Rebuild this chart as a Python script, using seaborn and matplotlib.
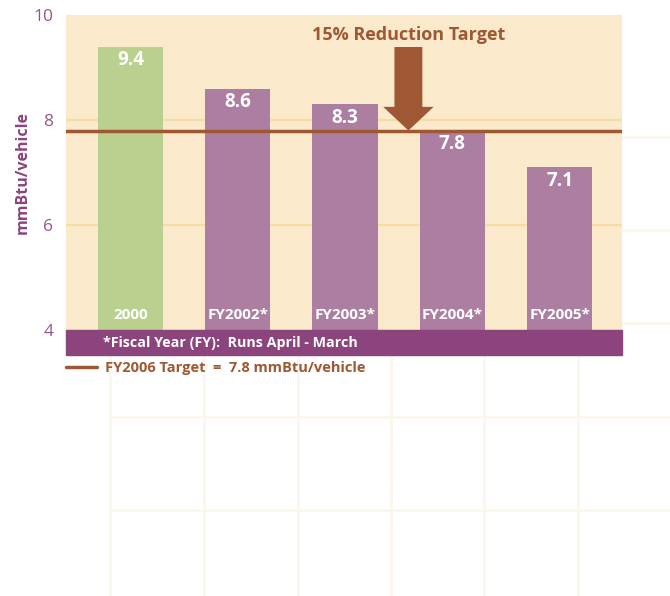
import matplotlib
matplotlib.use('Agg')
import matplotlib.pyplot as plt
import seaborn as sns
from matplotlib.patches import Rectangle
from matplotlib.lines import Line2D

# data
years = ['2000', 'FY2002*', 'FY2003*', 'FY2004*', 'FY2005*']
energy = [9.4, 8.6, 8.3, 7.8, 7.1]
bar_colors = ['#B9D08F', '#AC7FA2', '#AC7FA2', '#AC7FA2', '#AC7FA2']
target = 7.8
yticks = [4, 6, 8, 10]

sns.set_theme(style='white')
plt.rcParams['font.family'] = ['Open Sans', 'DejaVu Sans']

PURPLE = '#8B447C'
TICK_PURPLE = '#93588B'
BROWN = '#9E5833'
BEIGE = '#FAEACB'

fig = plt.figure(figsize=(6.7, 5.96), dpi=100)

# faint graph-paper grid behind everything
bg = fig.add_axes([0, 0, 1, 1], zorder=0)
bg.set_xlim(0, 670)
bg.set_ylim(596, 0)
bg.vlines([110, 204, 298, 391, 484, 578], 137, 596, color='#FCF7EC', lw=2)
bg.hlines([137, 230, 323, 417, 510], 110, 670, color='#FCF7EC', lw=2)
bg.axis('off')

ax = fig.add_axes([66 / 670, 1 - 330 / 596, 556 / 670, 315 / 596], zorder=2)
ax.set_facecolor(BEIGE)
sns.barplot(x=years, y=energy, hue=years, palette=bar_colors, legend=False,
            width=0.61, saturation=1, linewidth=0, edgecolor='none', ax=ax, zorder=3)
ax.set_xlim(-0.6, 4.58)
ax.set_ylim(4, 10)
ax.set_yticks(yticks)
ax.set_yticklabels([str(t) for t in yticks])
ax.yaxis.grid(True, color='#F5DDA2', lw=1.5)
ax.set_axisbelow(True)
gl = ax.yaxis.get_gridlines()
gl[0].set_visible(False)
gl[-1].set_visible(False)
ax.tick_params(axis='y', length=0, labelsize=12.5, labelcolor=TICK_PURPLE, pad=9)
ax.tick_params(axis='x', length=0, labelbottom=False)
ax.set_xlabel('')
ax.set_ylabel('mmBtu/vehicle', color=PURPLE, fontweight='bold', fontsize=11.5)
ax.yaxis.set_label_coords(-35 / 556, 0.5)
for s in ax.spines.values():
    s.set_visible(False)

# target line + arrow
ax.axhline(target, color=BROWN, lw=2.5, zorder=4)
ax.arrow(2.59, 9.39, 0, target - 9.39, width=0.26, head_width=0.47, head_length=0.45,
         length_includes_head=True, color=BROWN, lw=0, zorder=5)
ax.text(2.59, 9.62, '15% Reduction Target', ha='center', va='center', color=BROWN,
        fontweight='bold', fontsize=13)

for i, (name, v) in enumerate(zip(years, energy)):
    ax.text(i, v - 0.26, f'{v:.1f}', ha='center', va='center', color='white',
            fontweight='bold', fontsize=13.5, zorder=6)
    ax.text(i, 4.29, name, ha='center', va='center', color='white',
            fontweight='bold', fontsize=11, zorder=6)

# footnote band under the plot
band_h = 25 / 315
ax.add_patch(Rectangle((0, -band_h), 1, band_h, transform=ax.transAxes,
                       clip_on=False, color=PURPLE, zorder=6))
ax.text(37 / 556, -band_h / 2, '*Fiscal Year (FY):  Runs April - March', transform=ax.transAxes,
        ha='left', va='center', color='white', fontweight='bold', fontsize=10.3, zorder=7)

fig.legend(handles=[Line2D([], [], color=BROWN, lw=2.5)],
           labels=['FY2006 Target  =  7.8 mmBtu/vehicle'],
           loc='center left', bbox_to_anchor=(66 / 670, 1 - 368 / 596),
           frameon=False, borderpad=0, borderaxespad=0, handlelength=2.1,
           handletextpad=0.55, labelcolor=BROWN,
           prop={'weight': 'bold', 'size': 10.5})

fig.savefig('out.png', dpi=100)
